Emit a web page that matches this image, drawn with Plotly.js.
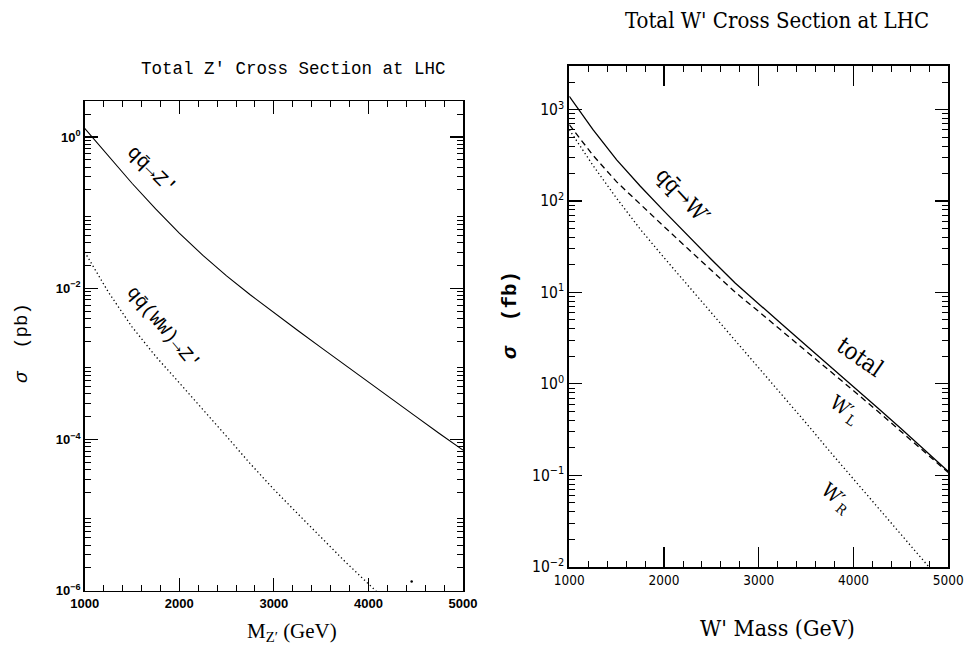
<!DOCTYPE html>
<html>
<head>
<meta charset="utf-8">
<script src="https://cdn.plot.ly/plotly-3.0.1.min.js"></script>
<style>
html,body{margin:0;padding:0;background:#fff;}
#chart{width:964px;height:645px;}
</style>
</head>
<body>
<div id="chart"></div>
<script>
// ---------- data ----------
// Left panel: Z' cross sections (pb) vs M_Z' (GeV)
const zMass = [1000,1250,1500,1750,2000,2250,2500,2750,3000,3250,3500,3750,4000,4250,4500,4750,5000];
const zQQ   = [1.30,0.562,0.245,0.112,0.0537,0.0272,0.0146,0.00822,0.00473,0.00279,0.00164,9.66e-4,5.69e-4,3.39e-4,2.02e-4,1.20e-4,7.24e-5];
const zWWMass = [1000,1250,1500,1750,2000,2250,2500,2750,3000,3250,3500,3750,4000,4250];
const zWW   = [0.0302,0.00891,0.00309,0.00126,5.62e-4,2.51e-4,1.10e-4,4.79e-5,2.19e-5,1.05e-5,5.01e-6,2.45e-6,1.23e-6,6.31e-7];
const zStrayMass = [4457];
const zStray = [1.32e-6];

// Right panel: W' cross sections (fb) vs W' mass (GeV)
const wMass  = [1000,1250,1500,1750,2000,2250,2500,2750,3000,3250,3500,3750,4000,4250,4500,4750,5000];
const wTotal = [1396,603,282,145,77.6,41.7,22.9,12.7,7.41,4.42,2.63,1.57,0.933,0.550,0.324,0.191,0.110];
const wLeft  = [684,316,162,91.2,52.5,30.2,17.4,10.1,6.17,3.76,2.29,1.40,0.841,0.507,0.302,0.182,0.107];
const wRight = [603,245,107,49.0,24.0,12.0,6.03,2.99,1.48,0.741,0.372,0.182,0.0912,0.0457,0.0229,0.0114,0.00562];

// tick labels
const zYTickVals = [1e-6,1e-4,1e-2,1];
const zYTickText = ['10<sup>−6</sup>','10<sup>−4</sup>','10<sup>−2</sup>','10<sup>0</sup>'];
const zYOddDecades = [1e-5,1e-3,1e-1];
const wYTickVals = [1e-2,1e-1,1,10,100,1000];
const wYTickText = ['10<sup>−2</sup>','10<sup>−1</sup>','10<sup>0</sup>','10<sup>1</sup>','10<sup>2</sup>','10<sup>3</sup>'];
const xTickVals = [1000,2000,3000,4000,5000];
const xTickText = ['1000','2000','3000','4000','5000'];

// minor tick positions (axis furniture)
function logMinor(lo, hi){ const v=[]; for(let e=lo;e<=hi;e++){ for(let d=2;d<=9;d++){ v.push(d*Math.pow(10,e)); } } return v; }
function linMinor(){ const v=[]; for(let m=1200;m<5000;m+=200){ if(m%1000!==0) v.push(m);} return v; }

const black = '#000';
const traces = [
  {x:zMass, y:zQQ, xaxis:'x', yaxis:'y', mode:'lines', line:{color:black,width:1.1}, hoverinfo:'none'},
  {x:zWWMass, y:zWW, xaxis:'x', yaxis:'y', mode:'lines', line:{color:black,width:1.3,dash:'1.3px,2.7px'}, hoverinfo:'none'},
  {x:zStrayMass, y:zStray, xaxis:'x', yaxis:'y', mode:'markers', marker:{color:black,size:2.5}, hoverinfo:'none'},
  {x:wMass, y:wTotal, xaxis:'x2', yaxis:'y2', mode:'lines', line:{color:black,width:1.3}, hoverinfo:'none'},
  {x:wMass, y:wLeft, xaxis:'x2', yaxis:'y2', mode:'lines', line:{color:black,width:1.3,dash:'6px,4px'}, hoverinfo:'none'},
  {x:wMass, y:wRight, xaxis:'x2', yaxis:'y2', mode:'lines', line:{color:black,width:1.3,dash:'1.3px,2.7px'}, hoverinfo:'none'}
];

const W=964, H=645;
const leftFont = {family:'Liberation Sans, Arial, sans-serif', size:13, color:black, weight:'bold'};
const rightXFont = {family:'DejaVu Sans Condensed, sans-serif', size:13.5, color:black};
const rightYFont = {family:'DejaVu Sans Condensed, sans-serif', size:15.5, color:black};

function xAxis(domain, font, majorLen, lw, anchor){
  return {domain:domain, range:[1000,5000], anchor:anchor, showgrid:false, zeroline:false,
    showline:true, linecolor:black, linewidth:lw, mirror:'allticks',
    ticks:'inside', ticklen:majorLen, tickwidth:1.2, tickcolor:black, ticklabeloverflow:'allow',
    tickmode:'array', tickvals:xTickVals, ticktext:xTickText, tickfont:font,
    minor:{tickmode:'array', tickvals:linMinor(), ticks:'inside', ticklen:6, tickwidth:1, tickcolor:black, showgrid:false}};
}
function yAxis(domain, range, tv, tt, minorV, font, lw, anchor){
  return {domain:domain, type:'log', range:range, anchor:anchor, showgrid:false, zeroline:false,
    showline:true, linecolor:black, linewidth:lw, mirror:'allticks',
    ticks:'inside', ticklen:13, tickwidth:1.2, tickcolor:black,
    tickmode:'array', tickvals:tv, ticktext:tt, tickfont:font,
    minor:{tickmode:'array', tickvals:minorV, ticks:'inside', ticklen:6, tickwidth:1, tickcolor:black, showgrid:false}};
}

const yLeft = yAxis([1-590.7/H, 1-101/H], [-6, Math.log10(3)], zYTickVals, zYTickText, logMinor(-7,0), leftFont, 1.5, 'x');
// overlay axis carrying the unlabeled odd-decade major ticks of the left panel
const yLeftOdd = {domain:yLeft.domain, type:'log', range:yLeft.range, overlaying:'y', anchor:'x', side:'left',
  showgrid:false, zeroline:false, showline:false, mirror:'ticks', ticks:'inside', ticklen:13, tickwidth:1.2, tickcolor:black,
  tickmode:'array', tickvals:zYOddDecades, showticklabels:false};

const monoF = 'Liberation Mono, Courier New, monospace';
const condF = 'DejaVu Serif Condensed, Liberation Mono, monospace';
const layout = {
  width:W, height:H, margin:{l:0,r:0,t:0,b:0}, paper_bgcolor:'#fff', plot_bgcolor:'#fff', showlegend:false,
  xaxis: xAxis([84.7/W, 463/W], leftFont, 13, 1.5, 'y'),
  yaxis: yLeft,
  yaxis3: yLeftOdd,
  xaxis2: xAxis([569.3/W, 948.3/W], rightXFont, 20, 2, 'y2'),
  yaxis2: yAxis([1-566.7/H, 1-66/H], [-2, Math.log10(3000)], wYTickVals, wYTickText, logMinor(-2,3), rightYFont, 2, 'x2'),
  annotations: [
    {text:'Total Z′ Cross Section at LHC', xref:'paper', yref:'paper', x:293/W, y:1-69/H, showarrow:false, xanchor:'center', yanchor:'middle',
     font:{family:monoF, size:17.5, color:black}},
    {text:'Total W\' Cross Section at LHC', xref:'paper', yref:'paper', x:777/W, y:1-20/H, showarrow:false, xanchor:'center', yanchor:'middle',
     font:{family:condF, size:22, color:black}},
    {text:'M<sub>Z′</sub> (GeV)', xref:'paper', yref:'paper', x:292/W, y:1-632/H, showarrow:false, xanchor:'center', yanchor:'middle',
     font:{family:'Liberation Serif, Times New Roman, serif', size:21, color:black}},
    {text:'W\' Mass (GeV)', xref:'paper', yref:'paper', x:777/W, y:1-628/H, showarrow:false, xanchor:'center', yanchor:'middle',
     font:{family:condF, size:23, color:black}},
    {text:'<i>σ</i>  (pb)', xref:'paper', yref:'paper', x:22/W, y:1-343/H, showarrow:false, textangle:-90, xanchor:'center', yanchor:'middle',
     font:{family:monoF, size:19, color:black}},
    {text:'<i>σ</i>  (fb)', xref:'paper', yref:'paper', x:510/W, y:1-315/H, showarrow:false, textangle:-90, xanchor:'center', yanchor:'middle',
     font:{family:monoF, size:21, color:black, weight:'bold'}},
    {text:'qq̄→Z′', xref:'paper', yref:'paper', x:152/W, y:1-170/H, showarrow:false, textangle:45, xanchor:'center', yanchor:'middle',
     font:{family:monoF, size:20, color:black}},
    {text:'qq̄(WW)→Z′', xref:'paper', yref:'paper', x:163/W, y:1-328/H, showarrow:false, textangle:50, xanchor:'center', yanchor:'middle',
     font:{family:monoF, size:19, color:black}},
    {text:'qq̄→W′', xref:'paper', yref:'paper', x:683/W, y:1-195/H, showarrow:false, textangle:47, xanchor:'center', yanchor:'middle',
     font:{family:condF, size:22, color:black}},
    {text:'total', xref:'paper', yref:'paper', x:860/W, y:1-357/H, showarrow:false, textangle:35, xanchor:'center', yanchor:'middle',
     font:{family:condF, size:24, color:black}},
    {text:'W′<sub>L</sub>', xref:'paper', yref:'paper', x:845/W, y:1-410/H, showarrow:false, textangle:35, xanchor:'center', yanchor:'middle',
     font:{family:condF, size:20, color:black}},
    {text:'W′<sub>R</sub>', xref:'paper', yref:'paper', x:836/W, y:1-498/H, showarrow:false, textangle:40, xanchor:'center', yanchor:'middle',
     font:{family:condF, size:20, color:black}}
  ]
};

Plotly.newPlot('chart', traces, layout, {staticPlot:true, displayModeBar:false});
</script>
</body>
</html>
